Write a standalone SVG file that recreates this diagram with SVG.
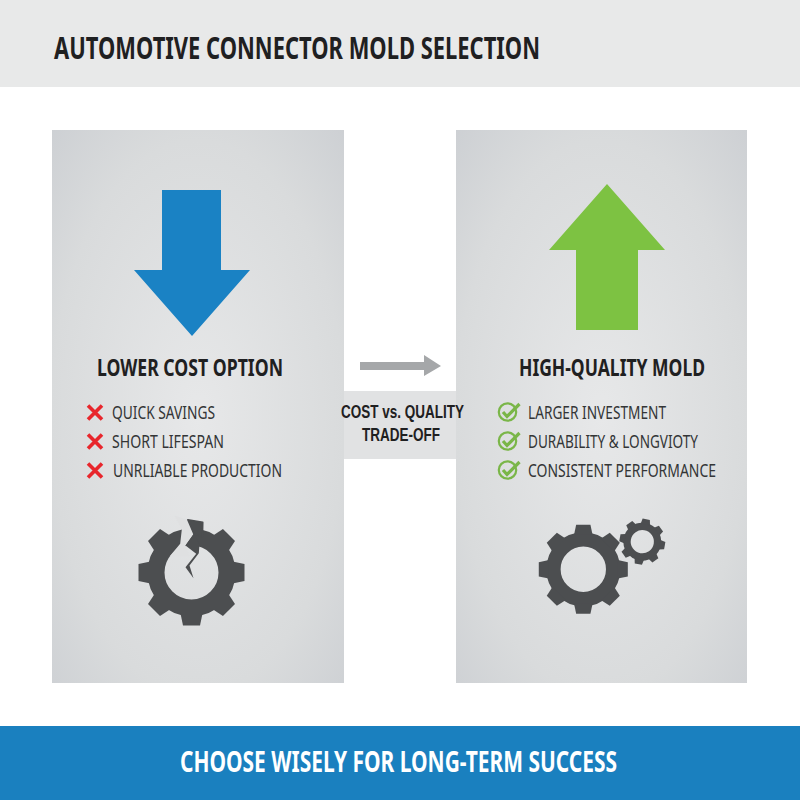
<svg xmlns="http://www.w3.org/2000/svg" xmlns:xlink="http://www.w3.org/1999/xlink" width="800" height="800" viewBox="0 0 800 800">
<style>
text{font-family:"Noto Sans","Open Sans","Liberation Sans",sans-serif}
.h{font-weight:700;fill:#1f2021}
.t{font-size:31px}
.s{font-size:23px}
.m{font-size:19px;font-family:"Liberation Sans",Arial,sans-serif}
.l{font-weight:400;font-size:18.5px;fill:#333536}
.gear{fill:#4c4e50}
.gear path{stroke:#4c4e50;stroke-width:1.5;stroke-linejoin:round}
.x{stroke:#e8262c;stroke-width:3.6;fill:none}
.c{stroke:#7ab648;fill:none}
</style>
<defs>
<radialGradient id="panel" cx="50%" cy="52%" r="76%">
<stop offset="0" stop-color="#e7e8e9"/><stop offset=".66" stop-color="#d9dbdc"/><stop offset="1" stop-color="#cbced2"/>
</radialGradient>
<path id="tooth" d="M-11-41L-8.5-53H8.5L11-41Z"/>
<g id="teeth7">
<use xlink:href="#tooth" transform="rotate(45)"/><use xlink:href="#tooth" transform="rotate(90)"/><use xlink:href="#tooth" transform="rotate(135)"/><use xlink:href="#tooth" transform="rotate(180)"/><use xlink:href="#tooth" transform="rotate(225)"/><use xlink:href="#tooth" transform="rotate(270)"/><use xlink:href="#tooth" transform="rotate(315)"/>
</g>
<g id="gear8">
<circle r="35.5" fill="none" stroke="#4c4e50" stroke-width="17"/>
<use xlink:href="#teeth7"/><use xlink:href="#tooth"/>
</g>
<g id="xmark"><path class="x" d="M-7-7L7 7M7-7L-7 7"/></g>
<g id="check"><circle class="c" r="8.7" stroke-width="2.2"/><path class="c" stroke-width="3.2" d="M-4.5 0L-.5 4.5L12-8"/></g>
</defs>
<rect width="800" height="800" fill="#fff"/>
<g id="header"><rect width="800" height="87" fill="#e8e9e9"/>
<text class="h t" x="54" y="59" textLength="486" lengthAdjust="spacingAndGlyphs">AUTOMOTIVE CONNECTOR MOLD SELECTION</text></g>
<g id="lower-cost">
<rect x="52" y="130" width="292" height="553" fill="url(#panel)"/>
<polygon points="162,190 221,190 221,270 250,270 192,336 134,270 162,270" fill="#1a82c4"/>
<text class="h s" x="97" y="376" textLength="186" lengthAdjust="spacingAndGlyphs">LOWER COST OPTION</text>
<use xlink:href="#xmark" x="95" y="412.5"/><use xlink:href="#xmark" x="95" y="441.5"/><use xlink:href="#xmark" x="95" y="470.5"/>
<text class="l" x="112" y="419" textLength="103" lengthAdjust="spacingAndGlyphs">QUICK SAVINGS</text>
<text class="l" x="112" y="448" textLength="112" lengthAdjust="spacingAndGlyphs">SHORT LIFESPAN</text>
<text class="l" x="113" y="477" textLength="169" lengthAdjust="spacingAndGlyphs">UNRLIABLE PRODUCTION</text>
<g class="gear" transform="translate(191.5 572.5)">
<circle r="35.5" fill="none" stroke="#4c4e50" stroke-width="17"/>
<use xlink:href="#teeth7"/>
<polygon points="-17,-57 -3.7,-52.7 2.3,-38.7 -6,-27 -2,-16 -22,-16 -11.3,-28.7 -9.7,-43" fill="#dfe0e1"/>
<path d="M-3.7-52.7L11.3-50.3L11-36L2.3-38.7Z"/>
<polygon points="-6,-27 4.7,-18.7 -6,-5.3 2,5.7 -2,-7 7.3,-19.3 8,-28 2.3,-38.7" fill="#4c4e50"/>
</g>
</g>
<g id="high-quality">
<rect x="456" y="130" width="291" height="553" fill="url(#panel)"/>
<polygon points="607,184 665,250 638,250 638,330 576,330 576,250 549,250" fill="#7dc242"/>
<text class="h s" x="519" y="376" textLength="186" lengthAdjust="spacingAndGlyphs">HIGH-QUALITY MOLD</text>
<use xlink:href="#check" x="507.5" y="412"/><use xlink:href="#check" x="507.5" y="441"/><use xlink:href="#check" x="507.5" y="470"/>
<text class="l" x="528" y="419" textLength="138" lengthAdjust="spacingAndGlyphs">LARGER INVESTMENT</text>
<text class="l" x="528" y="448" textLength="170" lengthAdjust="spacingAndGlyphs">DURABILITY &amp; LONGVIOTY</text>
<text class="l" x="528" y="477" textLength="188" lengthAdjust="spacingAndGlyphs">CONSISTENT PERFORMANCE</text>
<g class="gear" transform="translate(583.3 569.3) scale(.84)"><use xlink:href="#gear8"/></g>
<g class="gear" transform="translate(642.3 541.7) rotate(10) scale(.43)"><use xlink:href="#gear8"/></g>
</g>
<g id="trade-off"><rect x="344" y="391" width="112" height="68" fill="#e1e2e3"/>
<text class="h m" x="341" y="418" textLength="123" lengthAdjust="spacingAndGlyphs">COST vs. QUALITY</text>
<text class="h m" x="362" y="441" textLength="78" lengthAdjust="spacingAndGlyphs">TRADE-OFF</text></g>
<g id="connectors"><polygon points="360,362 424,362 424,355 441,366 424,376 424,370 360,370" fill="#a5a7a9"/></g>
<g id="footer"><rect y="726" width="800" height="74" fill="#1a80bf"/>
<text x="180" y="772" font-size="28" font-weight="700" fill="#fff" textLength="437" lengthAdjust="spacingAndGlyphs">CHOOSE WISELY FOR LONG-TERM SUCCESS</text></g>
</svg>
